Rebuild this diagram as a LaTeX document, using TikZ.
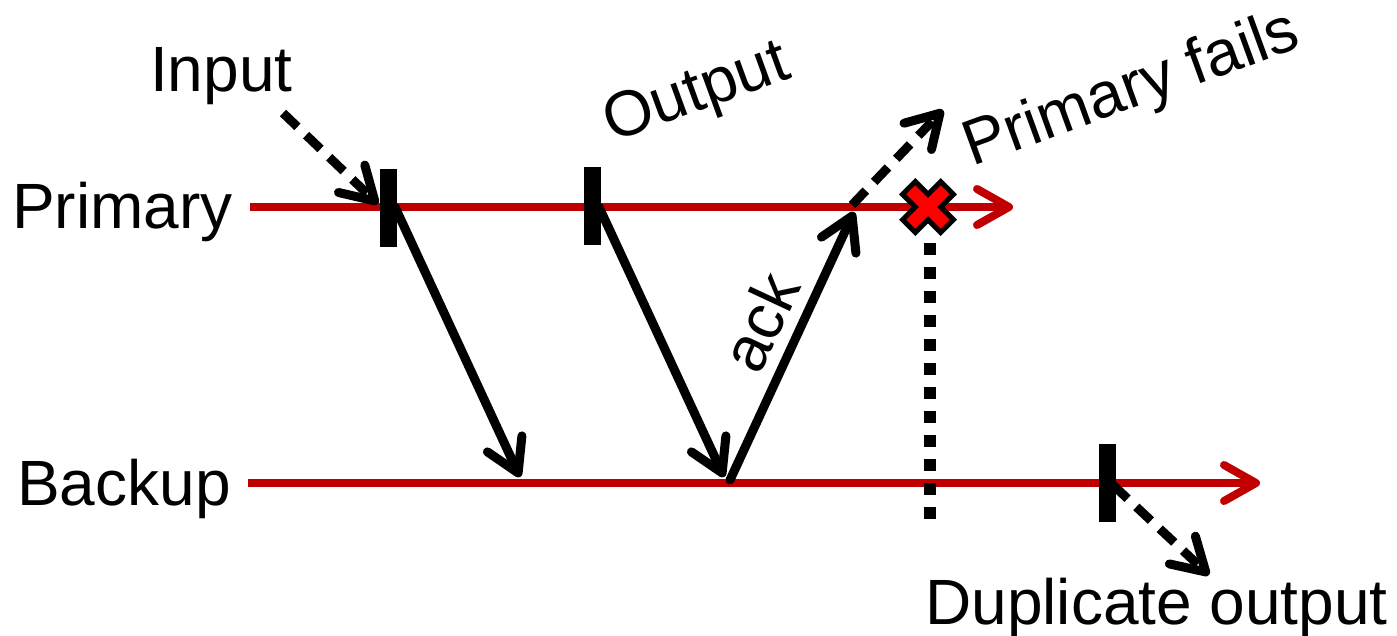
\documentclass[tikz,border=0pt]{standalone}
\usepackage{fontspec}
\setmainfont{Liberation Sans}
\usetikzlibrary{arrows.meta}
\definecolor{tl}{HTML}{C00000}
\definecolor{xred}{HTML}{FF0000}
\begin{document}
\begin{tikzpicture}[x=1pt,y=-1pt,
  lbl/.style={font=\fontsize{64}{77}\selectfont, inner sep=0pt},
  timeline/.style={draw=tl, line width=8pt, -{Straight Barb[length=32pt,width=36pt,round]}},
  msg/.style={draw=black, line width=9pt, line cap=round, -{Straight Barb[length=32pt,width=38pt,round]}},
  ext/.style={msg, dash pattern=on 20pt off 12pt, line cap=butt},
  tickbar/.style={fill=black, draw=none, minimum width=17pt, minimum height=78pt, inner sep=0pt},
  failmark/.style={fill=xred, draw=black, line width=5pt, line join=miter},
  dotline/.style={draw=black, line width=12pt, dash pattern=on 12pt off 12pt}]
\useasboundingbox (0,0) rectangle (1397,635);

% labels
\node[lbl, anchor=base west] (primary) at (12,228) {Primary};
\node[lbl, anchor=base west] (backup) at (17,505) {Backup};
\node[lbl, anchor=base west] (input) at (150,91) {Input};
\node[lbl, anchor=base west, rotate=20] (output) at (612,143) {Output};
\node[lbl, anchor=base west, rotate=20] (fails) at (972,167) {Primary fails};
\node[lbl, anchor=base west] (dup) at (925,624) {Duplicate output};
\node[lbl, rotate=65] (ack) at (760,322) {ack};

% timelines
\coordinate (p0) at (250,207); \coordinate (p1) at (1013,207);
\coordinate (b0) at (248,483); \coordinate (b1) at (1260,483);
\draw[timeline] (p0) -- (p1);
\draw[timeline] (b0) -- (b1);

% dotted failure line
\coordinate (d0) at (930,243); \coordinate (d1) at (930,520);
\draw[dotline] (d0) -- (d1);

% ticks
\node[tickbar] (t1) at (388,208) {};
\node[tickbar] (t2) at (592,206) {};
\node[tickbar] (t3) at (1107,483) {};

% coordinates for messages
\coordinate (in0) at (283,113); \coordinate (in1) at (378,204);
\coordinate (m1a) at (395,207); \coordinate (m1b) at (520,477);
\coordinate (m2a) at (599,207); \coordinate (m2b) at (724,477);
\coordinate (ka) at (730,480); \coordinate (kb) at (854,212);
\coordinate (fa) at (852,205); \coordinate (fb) at (943,110);
\coordinate (oa) at (1113,485); \coordinate (ob) at (1209,575);

\draw[ext] (in0) -- (in1);
\draw[msg] (m1a) -- (m1b);
\draw[msg] (m2a) -- (m2b);
\draw[msg] (ka) -- (kb);
\draw[ext] (fa) -- (fb);
\draw[ext] (oa) -- (ob);

% failure mark
\begin{scope}[shift={(928,207)}, rotate=45]
  \draw[failmark] (9,27) -- (9,9) -- (27,9) -- (27,-9) -- (9,-9) -- (9,-27)
    -- (-9,-27) -- (-9,-9) -- (-27,-9) -- (-27,9) -- (-9,9) -- (-9,27) -- cycle;
\end{scope}
\end{tikzpicture}
\end{document}
